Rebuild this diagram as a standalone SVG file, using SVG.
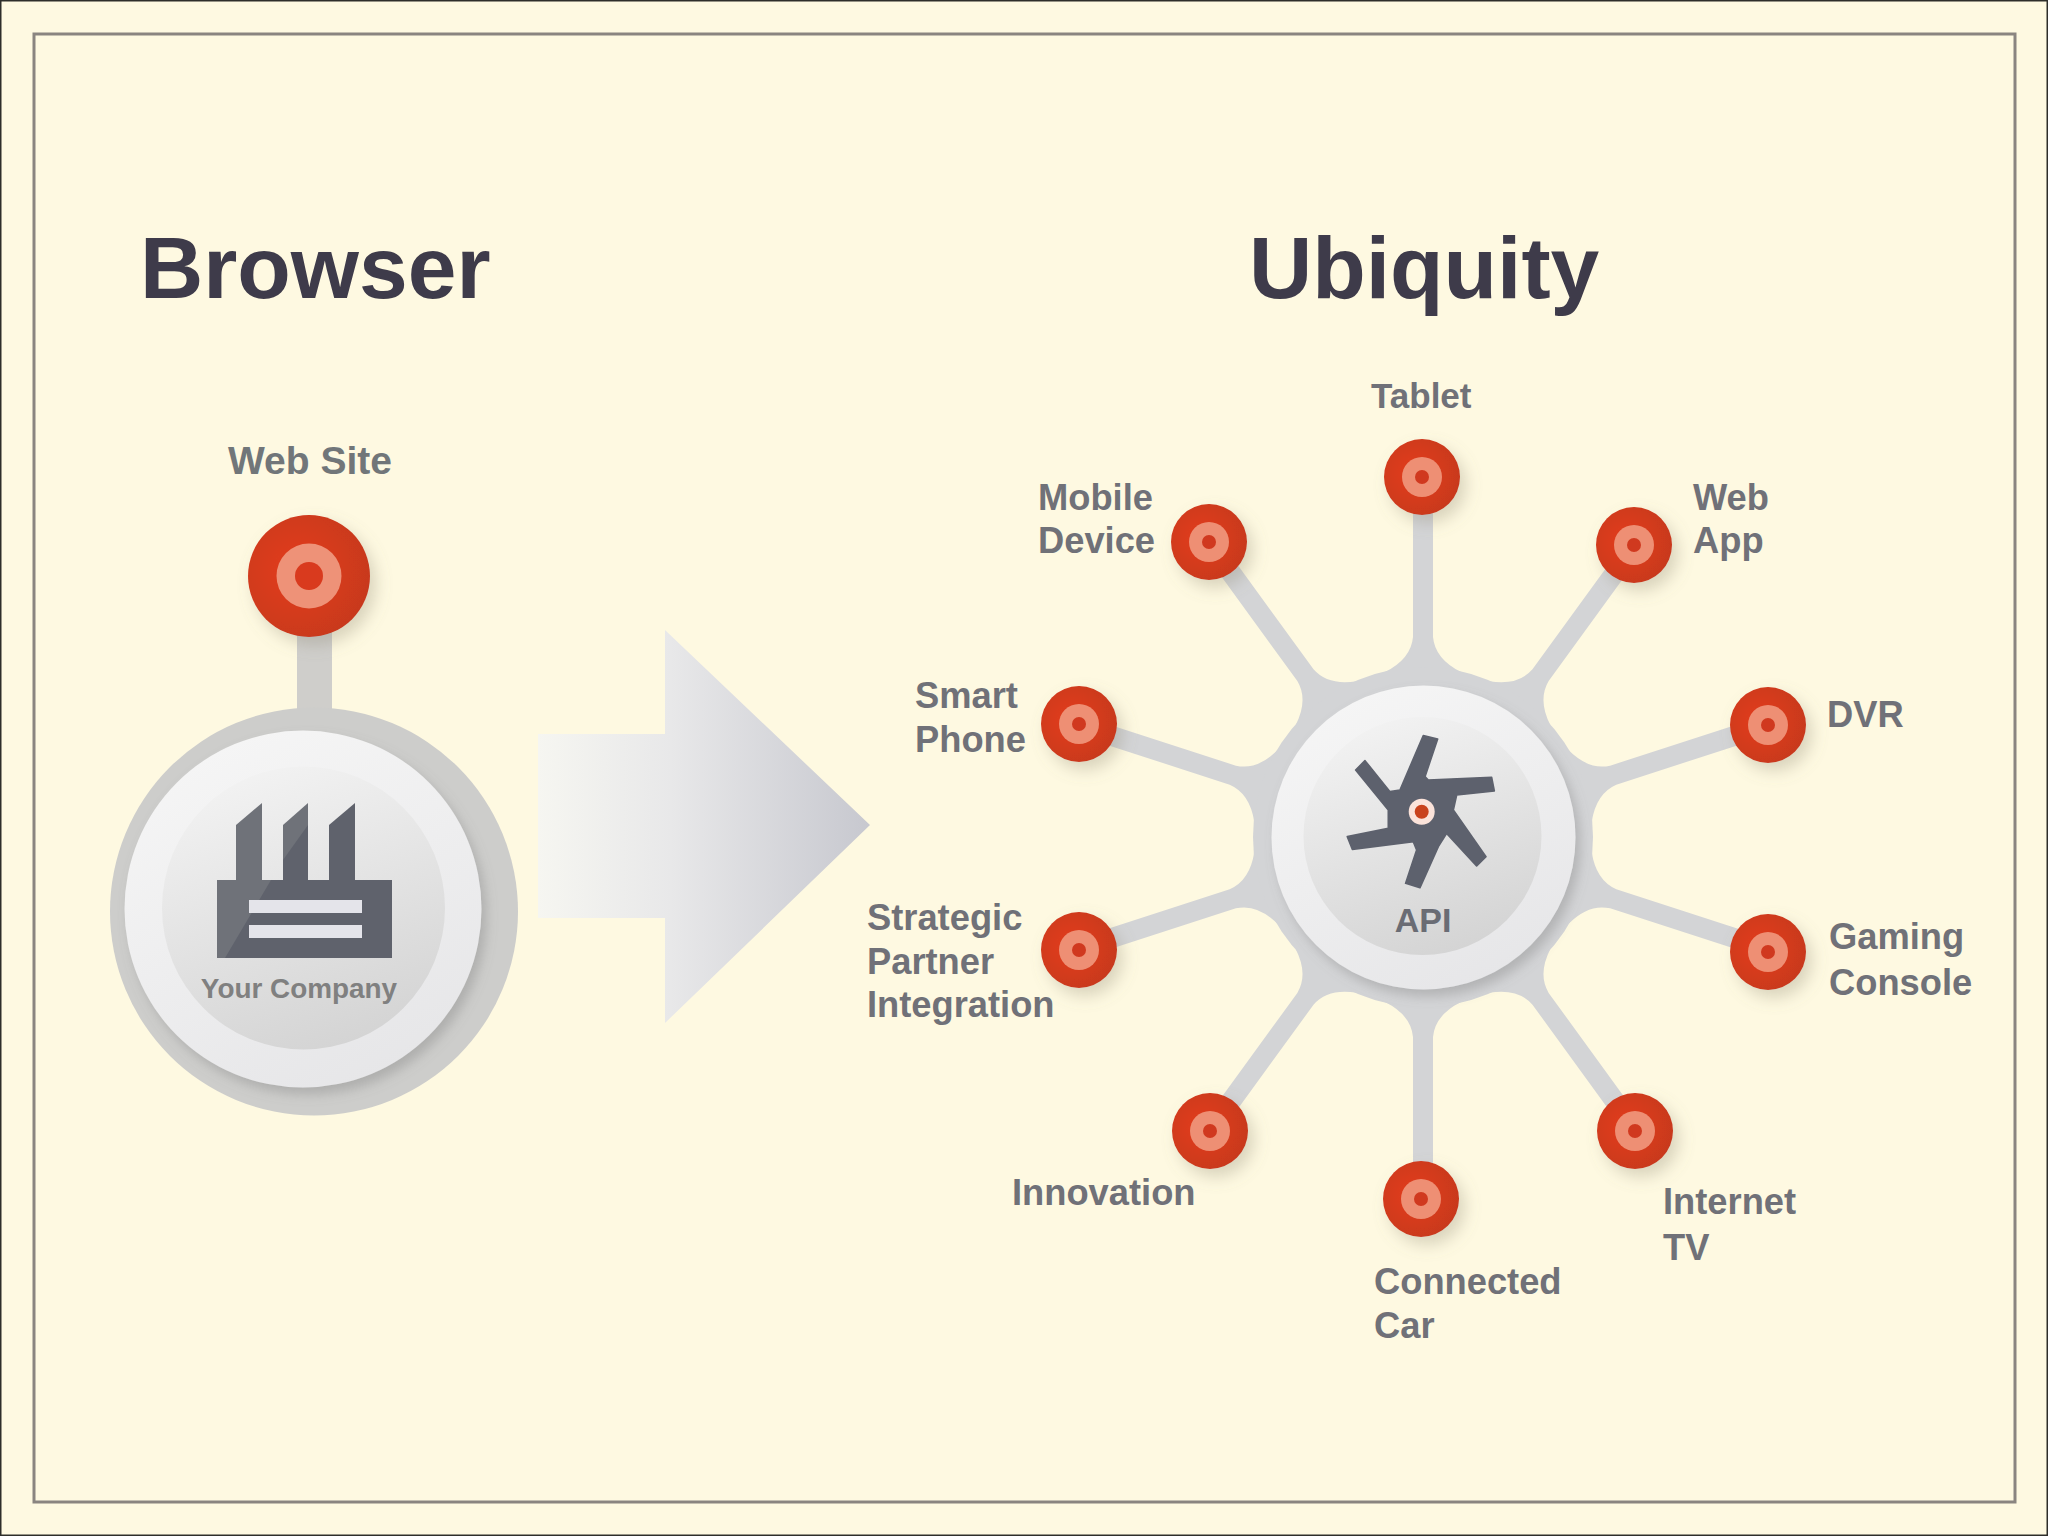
<svg xmlns="http://www.w3.org/2000/svg" width="2048" height="1536" viewBox="0 0 2048 1536">
<defs>
<style>
text{font-family:"Liberation Sans",Arial,sans-serif;font-weight:700}
.title{font-size:87.6px;fill:#3e3b4a}
.lab{font-size:36.3px;fill:#707178}
.spoke{fill:#d3d4d6}
.fl{fill:#6f7279}
.fd{fill:#5f626c}
.bar{fill:#e4e4ea}
</style>
<linearGradient id="arrowG" x1="0" y1="0" x2="1" y2="0"><stop offset="0" stop-color="#f6f6f1"/><stop offset="0.4" stop-color="#e8e8e9"/><stop offset="1" stop-color="#c7c8cf"/></linearGradient>
<radialGradient id="redG" cx="0.4" cy="0.45" r="0.65"><stop offset="0" stop-color="#e43c1c"/><stop offset="1" stop-color="#c6391f"/></radialGradient>
<linearGradient id="dishG" x1="0.25" y1="0" x2="0.6" y2="1"><stop offset="0" stop-color="#f3f3f3"/><stop offset="1" stop-color="#d4d4d4"/></linearGradient>
<linearGradient id="ringG" x1="0.2" y1="0" x2="0.7" y2="1"><stop offset="0" stop-color="#f6f6f6"/><stop offset="1" stop-color="#e6e6e8"/></linearGradient>
<filter id="sh" x="-30%" y="-30%" width="170%" height="170%"><feDropShadow dx="6" dy="8" stdDeviation="8" flood-color="#8a8570" flood-opacity="0.32"/></filter>
<filter id="soft" x="-10%" y="-10%" width="120%" height="120%"><feDropShadow dx="5" dy="7" stdDeviation="6" flood-color="#777" flood-opacity="0.35"/></filter>
<g id="dot">
<circle r="38" fill="url(#redG)" filter="url(#sh)"/>
<circle r="20" fill="#ee8f74"/>
<circle r="7" fill="#d0391f"/>
</g>
<path id="sp" class="spoke" d="M-10,-345 L10,-345 L10,-200 Q12,-178 38,-165 L-38,-165 Q-12,-178 -10,-200Z"/>
</defs>
<rect x="0" y="0" width="2048" height="1536" fill="#fef9e1"/>
<rect x="0.75" y="0.75" width="2046.5" height="1534.5" fill="none" stroke="#2e2e2a" stroke-width="1.5"/>
<rect x="34" y="34" width="1981" height="1468" fill="none" stroke="#8a8580" stroke-width="3"/>
<text class="title" x="140" y="298">Browser</text>
<text class="title" x="1249" y="298">Ubiquity</text>

<g id="connectors">
<rect x="297" y="630" width="35" height="90" fill="#cfcecb"/>
<g id="spokes">
<use href="#sp" transform="translate(1423 837)"/>
<use href="#sp" transform="translate(1423 837) rotate(36)"/>
<use href="#sp" transform="translate(1423 837) rotate(72)"/>
<use href="#sp" transform="translate(1423 837) rotate(108)"/>
<use href="#sp" transform="translate(1423 837) rotate(144)"/>
<use href="#sp" transform="translate(1423 837) rotate(180)"/>
<use href="#sp" transform="translate(1423 837) rotate(216)"/>
<use href="#sp" transform="translate(1423 837) rotate(252)"/>
<use href="#sp" transform="translate(1423 837) rotate(288)"/>
<use href="#sp" transform="translate(1423 837) rotate(324)"/>
</g>
</g>

<g id="big-arrow"><path d="M538,734H665V630L870,825L665,1023V918H538Z" fill="url(#arrowG)"/></g>

<g id="web-site">
<text x="310" y="474" text-anchor="middle" style="font-size:39px;fill:#717679">Web Site</text>
<circle cx="309" cy="576" r="61" fill="url(#redG)" filter="url(#sh)"/>
<circle cx="309" cy="576" r="32.5" fill="#ee9278"/>
<circle cx="309" cy="576" r="14" fill="#d93a1e"/>
</g>

<g id="your-company">
<circle cx="314" cy="911.5" r="204" fill="#cdcdcb"/>
<circle cx="303" cy="909" r="178.5" fill="url(#ringG)" filter="url(#soft)"/>
<circle cx="303.5" cy="908" r="141.5" fill="url(#dishG)"/>
<path class="fl" d="M236,825L262,803V880H236Z"/>
<path class="fl" d="M283,825L308,803V880H283Z"/>
<path class="fd" d="M308,825L283,860V880H308Z"/>
<path class="fd" d="M329,825L355,803V880H329Z"/>
<rect class="fl" x="217" y="880" width="175" height="78"/>
<path class="fd" d="M271,880H392V958H225Z"/>
<rect class="bar" x="249" y="900" width="113" height="13"/>
<rect class="bar" x="249" y="925" width="113" height="13"/>
<text x="299" y="998" text-anchor="middle" style="font-size:27.9px;fill:#808080">Your Company</text>
</g>

<g id="api">
<circle cx="1423" cy="837" r="170" fill="#d3d4d6"/>
<circle cx="1423.5" cy="837.5" r="152" fill="url(#ringG)" filter="url(#soft)"/>
<circle cx="1422.5" cy="836" r="119" fill="url(#dishG)"/>
<path transform="translate(1180 620) scale(0.3333)" fill="#5d616d" stroke="#5d616d" stroke-width="5" stroke-linejoin="round" d="M730,347L773,357L735,470L745,480L935,472L943,513L830,525L820,570L918,710L890,738L800,640L775,680L720,803L677,790L710,690L700,665L517,688L502,650L625,625L625,570L527,450L555,422L630,515L660,510Z"/>
<circle cx="1421.7" cy="811.7" r="13" fill="#fbe3da"/>
<circle cx="1421.7" cy="811.7" r="7" fill="#c9421c"/>
<text x="1423" y="932" text-anchor="middle" style="font-size:34px;fill:#6a6c74">API</text>
</g>

<g id="tablet"><use href="#dot" x="1422" y="477"/><text class="lab" x="1371" y="408" style="font-size:35px">Tablet</text></g>
<g id="web-app"><use href="#dot" x="1634" y="545"/><text class="lab" x="1693" y="510">Web</text><text class="lab" x="1693" y="553">App</text></g>
<g id="dvr"><use href="#dot" x="1768" y="725"/><text class="lab" x="1827" y="727">DVR</text></g>
<g id="gaming-console"><use href="#dot" x="1768" y="952"/><text class="lab" x="1829" y="949">Gaming</text><text class="lab" x="1829" y="995">Console</text></g>
<g id="internet-tv"><use href="#dot" x="1635" y="1131"/><text class="lab" x="1663" y="1214">Internet</text><text class="lab" x="1663" y="1260">TV</text></g>
<g id="connected-car"><use href="#dot" x="1421" y="1199"/><text class="lab" x="1374" y="1294">Connected</text><text class="lab" x="1374" y="1338">Car</text></g>
<g id="innovation"><use href="#dot" x="1210" y="1131"/><text class="lab" x="1012" y="1205">Innovation</text></g>
<g id="strategic-partner-integration"><use href="#dot" x="1079" y="950"/><text class="lab" x="867" y="930">Strategic</text><text class="lab" x="867" y="974">Partner</text><text class="lab" x="867" y="1017">Integration</text></g>
<g id="smart-phone"><use href="#dot" x="1079" y="724"/><text class="lab" x="915" y="708">Smart</text><text class="lab" x="915" y="752">Phone</text></g>
<g id="mobile-device"><use href="#dot" x="1209" y="542"/><text class="lab" x="1038" y="510">Mobile</text><text class="lab" x="1038" y="553">Device</text></g>
</svg>
